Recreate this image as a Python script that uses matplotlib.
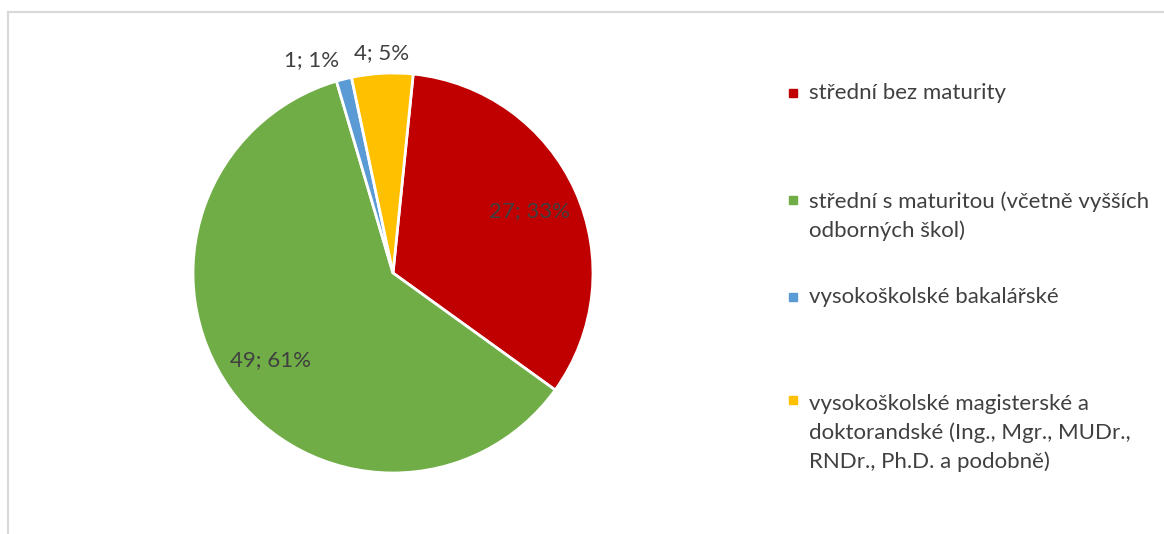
import numpy as np
import matplotlib
matplotlib.use("Agg")
from matplotlib import pyplot as plt
from matplotlib.patches import Rectangle
from matplotlib.lines import Line2D

plt.rcParams['font.family'] = ['Lato', 'DejaVu Sans']

kategorie = [
    "střední bez maturity",
    "střední s maturitou (včetně vyšších\nodborných škol)",
    "vysokoškolské bakalářské",
    "vysokoškolské magisterské a\ndoktorandské (Ing., Mgr., MUDr.,\nRNDr., Ph.D. a podobně)",
]
pocty = [27, 49, 1, 4]
procenta = [33, 61, 1, 5]
barvy = ["#C00000", "#70AD47", "#5B9BD5", "#FFC000"]
text_barva = "#404040"

W, H = 1164, 534
fig = plt.figure(figsize=(W / 100, H / 100), dpi=100)

# ramecek grafu (jen horni a leva hrana jsou videt)
fig.add_artist(Line2D([8 / W, 8 / W], [0, 1 - 12 / H], color="#D9D9D9", lw=1.5))
fig.add_artist(Line2D([8 / W, 1], [1 - 12 / H, 1 - 12 / H], color="#D9D9D9", lw=1.5))

cx, cy, r = 393, 273, 200
ax = fig.add_axes([(cx - r) / W, 1 - (cy + r) / H, 2 * r / W, 2 * r / H])

wedges, _ = ax.pie(pocty, colors=barvy, startangle=84.2, counterclock=False,
                   radius=1, wedgeprops=dict(edgecolor="white", linewidth=2))
ax.set_xlim(-1, 1)
ax.set_ylim(-1, 1)
ax.set_aspect("equal")
ax.axis("off")

celkem = sum(pocty)
for w, n, pct in zip(wedges, pocty, procenta):
    mid = np.deg2rad((w.theta1 + w.theta2) / 2)
    lab = f"{n}; {pct}%"
    if n / celkem > 0.1:
        x, y = 0.75 * np.cos(mid), 0.75 * np.sin(mid)
        ax.text(x, y, lab, ha="center", va="center", fontsize=16, color=text_barva)
    else:
        x, y = 1.1 * np.cos(mid), 1.1 * np.sin(mid)
        ha = "right" if x < -0.15 else "center"
        ax.text(x, y, lab, ha=ha, va="center", fontsize=16, color=text_barva,
                clip_on=False)

# legenda
leg_y = [93, 200, 297, 400]
radek = 33
for yy, lab, c in zip(leg_y, kategorie, barvy):
    nr = lab.count("\n") + 1
    fig.add_artist(Rectangle((789 / W, 1 - (yy + 4) / H), 8 / W, 8 / H,
                             color=c, transform=fig.transFigure))
    fig.text(809 / W, 1 - (yy + (nr - 1) * radek / 2) / H, lab, ha="left",
             va="center", fontsize=16, color=text_barva, linespacing=1.5)

fig.savefig("out.png", dpi=100)
